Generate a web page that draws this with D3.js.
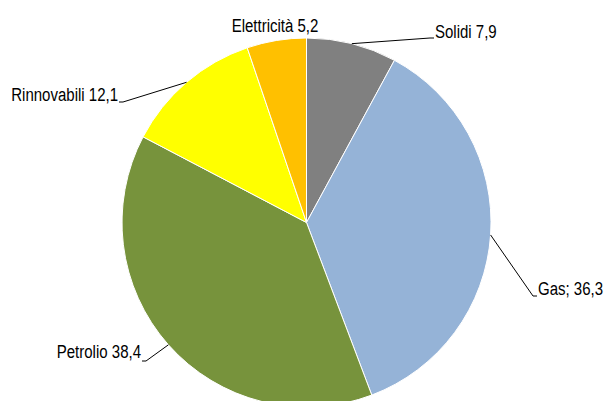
<!DOCTYPE html>
<html>
<head>
	<title>Pie</title>
	<style type="text/css">
		body{ margin:0; background:#fff; }
		.pie text{ font-family:'Liberation Sans', Arial, sans-serif; font-size:19px; fill:#000; }
	</style>
</head>
<body>
	<svg width=606 height=401 class="pie"></svg>
	<script type="text/javascript" src="https://cdn.jsdelivr.net/npm/d3@7"></script>
	<script type="text/javascript">

		categories = ['Solidi', 'Gas', 'Petrolio', 'Rinnovabili', 'Elettricità']
		values = [7.9, 36.3, 38.4, 12.1, 5.2]
		label_texts = ['Solidi 7,9', 'Gas; 36,3', 'Petrolio 38,4', 'Rinnovabili 12,1', 'Elettricità 5,2']
		colors = ['#808080', '#95B3D7', '#77933C', '#FFFF00', '#FFC000']

		// label placement: x, baseline y, leader end y, anchor, leader line or not
		label_pos = [
			{x:435, y:38, ly:38, anchor:'start', leader:true},
			{x:538, y:295, ly:296, anchor:'start', leader:true},
			{x:141, y:358, ly:361, anchor:'end', leader:true},
			{x:118, y:101, ly:102, anchor:'end', leader:true},
			{x:275, y:32, ly:32, anchor:'middle', leader:false}
		]

		cx = 306.5
		cy = 222.5
		radius = 184.5
		squeeze = 0.79   // labels are a narrow face

		svg = d3.select('.pie')

		pie = d3.pie().sort(null).value(function(d){return d})
		arcs = pie(values)

		arc = d3.arc().innerRadius(0).outerRadius(radius)

		g = svg.append('g').attr('transform', 'translate('+cx+','+cy+')')

		g.selectAll('path')
			.data(arcs)
			.enter()
			.append('path')
			.attr('d', arc)
			.attr('fill', function(d, i){return colors[i]})
			.attr('stroke', '#fff')
			.attr('stroke-width', 1)

		function edge_point(d){
			a = (d.startAngle + d.endAngle) / 2
			return [cx + radius * Math.sin(a), cy - radius * Math.cos(a)]
		}

		leaders = svg.append('g')
		arcs.forEach(function(d, i){
			p = label_pos[i]
			if (!p.leader) return
			start = edge_point(d)
			dir = p.anchor == 'start' ? -1 : 1
			elbow = [p.x + dir * 5, p.ly]
			end = [p.x + dir * 1, p.ly]
			leaders.append('polyline')
				.attr('points', [start, elbow, end].map(function(q){return q.join(',')}).join(' '))
				.attr('fill', 'none')
				.attr('stroke', '#000')
				.attr('stroke-width', 1)
		})

		svg.append('g')
			.selectAll('text')
			.data(label_texts)
			.enter()
			.append('text')
			.attr('transform', function(d, i){
				return 'translate('+label_pos[i].x+','+label_pos[i].y+') scale('+squeeze+',1)'
			})
			.attr('text-anchor', function(d, i){return label_pos[i].anchor})
			.text(function(d){return d})

	</script>
</body>
</html>
